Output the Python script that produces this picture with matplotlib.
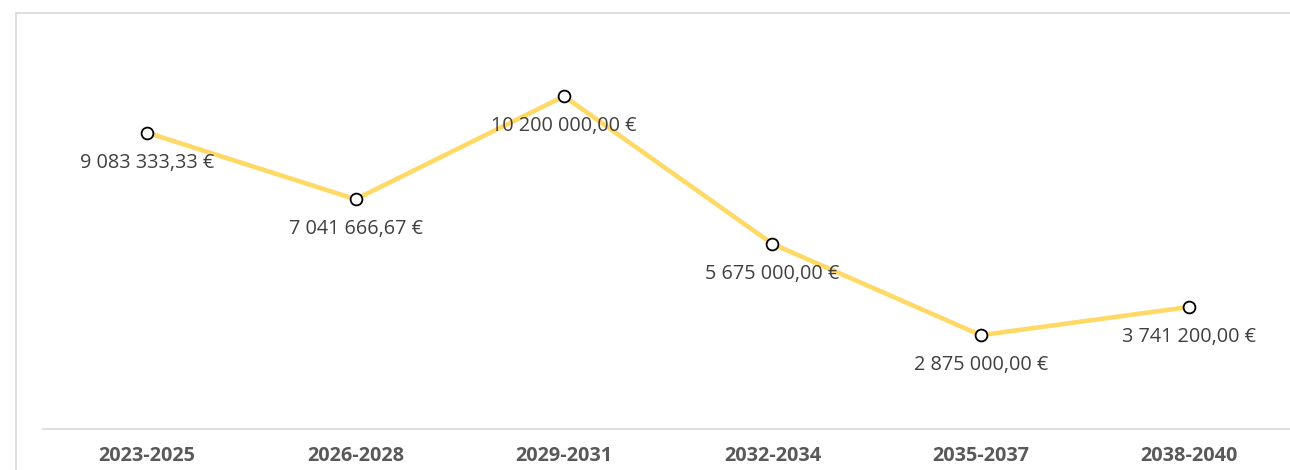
import matplotlib.pyplot as plt
from matplotlib.lines import Line2D

# Data
periods = ["2023-2025", "2026-2028", "2029-2031", "2032-2034", "2035-2037", "2038-2040"]
amounts = [9083333.33, 7041666.67, 10200000.00, 5675000.00, 2875000.00, 3741200.00]


def euro(v):
    s = f"{v:,.2f}"
    s = s.replace(",", " ").replace(".", ",")
    return s + " €"


W, H = 1290, 470
fig = plt.figure(figsize=(W / 100, H / 100), dpi=100)
fig.patch.set_facecolor("white")

# chart frame (cropped Excel chart border)
fig.add_artist(Line2D([16 / W, 16 / W], [0, 1 - 13 / H], color="#d9d9d9", lw=1.2))
fig.add_artist(Line2D([16 / W, 1], [1 - 13 / H, 1 - 13 / H], color="#d9d9d9", lw=1.2))

left_px, bottom_px, top_px = 43, 429, 37.5
ax = fig.add_axes([left_px / W, (H - bottom_px) / H, (W - left_px) / W, (bottom_px - top_px) / H])
ax.set_xlim(-0.5, -0.5 + (W - left_px) / 208.4)
ax.set_ylim(0, 12e6)

x = list(range(len(periods)))
ax.plot(x, amounts, color="#ffd966", lw=3.3, solid_capstyle="round", zorder=2)
ax.plot(x, amounts, ls="none", marker="o", ms=8.5, mfc="white", mec="black", mew=1.3, zorder=3)

for xi, v in zip(x, amounts):
    ax.annotate(euro(v), (xi, v), xytext=(0, -21.5), textcoords="offset points",
                ha="center", va="center", fontsize=14.3, color="#404040",
                family=["Open Sans", "DejaVu Sans"])

for s in ["left", "right", "top"]:
    ax.spines[s].set_visible(False)
ax.spines["bottom"].set_color("#d9d9d9")
ax.spines["bottom"].set_linewidth(1.2)
ax.set_yticks([])
ax.set_xticks(x)
ax.set_xticklabels(periods, fontsize=14.3, fontweight="bold", color="#595959",
                   family=["Open Sans", "DejaVu Sans"])
ax.tick_params(axis="x", length=0, pad=12)

fig.savefig("out.png", dpi=100)
